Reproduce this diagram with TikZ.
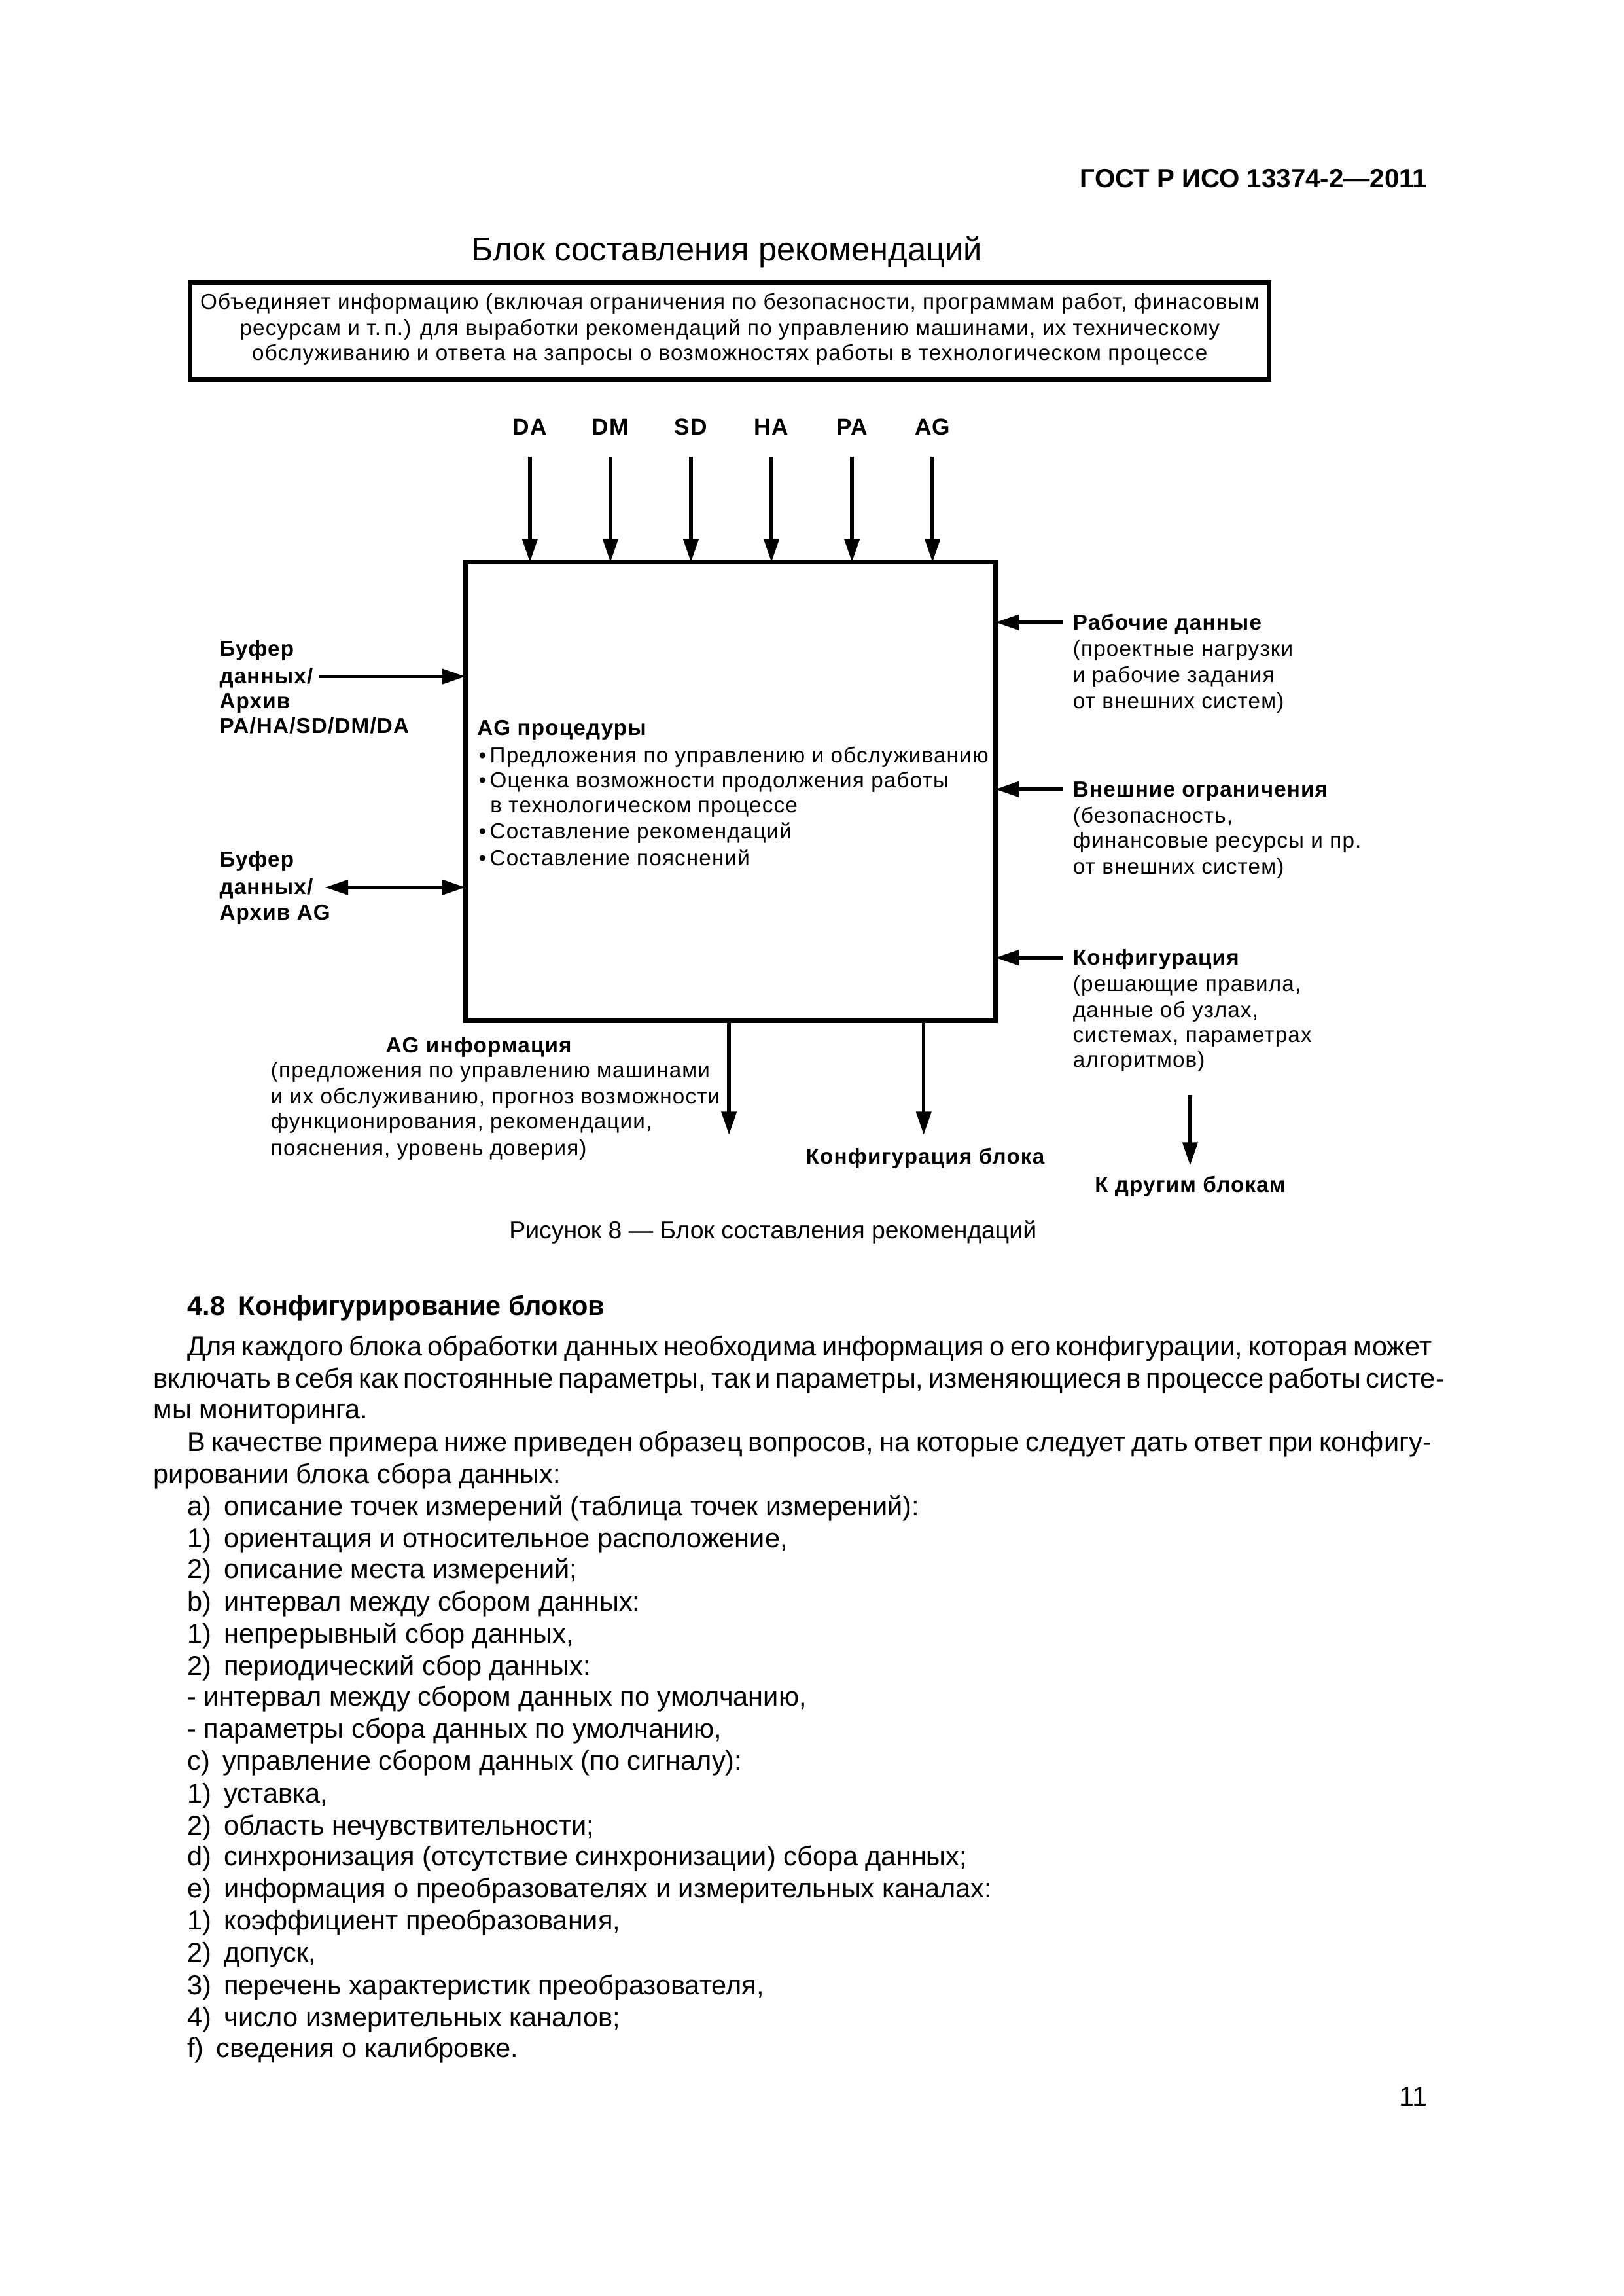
\documentclass[tikz,border=0pt]{standalone}
\usepackage{fontspec}
\setmainfont{Liberation Sans}
\newfontfamily\dg[LetterSpace=3.5]{Liberation Sans}
\usetikzlibrary{arrows.meta,fit}
\begin{document}
\begin{tikzpicture}[x=0.018936cm,y=-0.018941cm,
  every node/.style={inner sep=0pt, outer sep=0pt},
  tip/.tip={Triangle[length=3mm,width=1.9mm]},
  arr/.style={line width=1.3pt, -tip},
  darr/.style={line width=1.3pt, tip-tip},
  frame/.style={draw, line width=1.6pt, inner sep=0pt},
  dl/.style={font=\dg\fontsize{8}{9.6}\selectfont},
  dlb/.style={font=\dg\bfseries\fontsize{8}{9.6}\selectfont},
  body/.style={font=\fontsize{10}{12}\selectfont, anchor=base west},
]
\useasboundingbox (0,0) rectangle (1109,1568);
\fill[white] (0,0) rectangle (1109,1568);

% header and title
\node[font=\bfseries\fontsize{9.7}{11}\selectfont, anchor=base east] (hdr) at (975,128) {ГОСТ Р ИСО 13374-2—2011};
\node[font=\fontsize{12.2}{14}\selectfont, anchor=base] (title) at (496.5,178) {Блок составления рекомендаций};

% top description box
\node[frame, fit={(130,193) (867,259)}] (tb) {};
\node[dl, anchor=base] (tb1) at (498.5,211) {Объединяет информацию (включая ограничения по безопасности, программам работ, финасовым};
\node[dl, anchor=base] (tb2) at (498.5,229) {ресурсам и т.\,п.) для выработки рекомендаций по управлению машинами, их техническому};
\node[dl, anchor=base] (tb3) at (498.5,246) {обслуживанию и ответа на запросы о возможностях работы в технологическом процессе};

% main box
\node[frame, fit={(318,384) (680,697)}] (main) {};

% top inputs
\foreach \nm/\xx in {DA/362, DM/417, SD/472, HA/527, PA/582, AG/637}{
  \node[dlb, font=\dg\bfseries\fontsize{8.5}{10}\selectfont, anchor=base] (l\nm) at (\xx,297) {\nm};
  \coordinate (s\nm) at (\xx,312);
  \draw[arr] (s\nm) -- (s\nm |- main.north);
}

% left side
\coordinate (lin1) at (218,462);
\draw[arr] (lin1) -- (lin1 -| main.west);
\node[dlb, anchor=base west] (lb1) at (150,448) {Буфер};
\node[dlb, anchor=base west] (lb2) at (150,467) {данных/};
\node[dlb, anchor=base west] (lb3) at (150,484) {Архив};
\node[dlb, anchor=base west] (lb4) at (150,501) {PA/HA/SD/DM/DA};

\coordinate (lin2) at (222,606);
\draw[darr] (lin2) -- (lin2 -| main.west);
\node[dlb, anchor=base west] (lc1) at (150,592) {Буфер};
\node[dlb, anchor=base west] (lc2) at (150,611) {данных/};
\node[dlb, anchor=base west] (lc3) at (150,628) {Архив AG};

% inside main box
\node[dlb, anchor=base west] (ag0) at (326,502) {AG процедуры};
\node[dl, anchor=base west] (ag1) at (327,521) {\textbullet\,Предложения по управлению и обслуживанию};
\node[dl, anchor=base west] (ag2) at (327,538) {\textbullet\,Оценка возможности продолжения работы};
\node[dl, anchor=base west] (ag3) at (335,555) {в технологическом процессе};
\node[dl, anchor=base west] (ag4) at (327,573) {\textbullet\,Составление рекомендаций};
\node[dl, anchor=base west] (ag5) at (327,591) {\textbullet\,Составление пояснений};

% right side inputs
\foreach \yy [count=\i] in {425,539,654}{
  \coordinate (rin\i) at (726,\yy);
  \draw[arr] (rin\i) -- (rin\i -| main.east);
}
\node[dlb, anchor=base west] (ra1) at (733,430) {Рабочие данные};
\node[dl, anchor=base west] (ra2) at (733,448) {(проектные нагрузки};
\node[dl, anchor=base west] (ra3) at (733,466) {и рабочие задания};
\node[dl, anchor=base west] (ra4) at (733,484) {от внешних систем)};

\node[dlb, anchor=base west] (rb1) at (733,544) {Внешние ограничения};
\node[dl, anchor=base west] (rb2) at (733,562) {(безопасность,};
\node[dl, anchor=base west] (rb3) at (733,579) {финансовые ресурсы и пр.};
\node[dl, anchor=base west] (rb4) at (733,597) {от внешних систем)};

\node[dlb, anchor=base west] (rc1) at (733,659) {Конфигурация};
\node[dl, anchor=base west] (rc2) at (733,677) {(решающие правила,};
\node[dl, anchor=base west] (rc3) at (733,695) {данные об узлах,};
\node[dl, anchor=base west] (rc4) at (733,712) {системах, параметрах};
\node[dl, anchor=base west] (rc5) at (733,729) {алгоритмов)};

% outputs
\coordinate (o1) at (498,775);
\coordinate (o2) at (631,775);
\draw[arr] (o1 |- main.south) -- (o1);
\draw[arr] (o2 |- main.south) -- (o2);

\node[dlb, anchor=base] (oa0) at (327,719) {AG информация};
\node[dl, anchor=base west] (oa1) at (185,736) {(предложения по управлению машинами};
\node[dl, anchor=base west] (oa2) at (185,754) {и их обслуживанию, прогноз возможности};
\node[dl, anchor=base west] (oa3) at (185,771) {функционирования, рекомендации,};
\node[dl, anchor=base west] (oa4) at (185,789) {пояснения, уровень доверия)};

\node[dlb, anchor=base] (ob) at (632,795) {Конфигурация блока};

\coordinate (kt) at (813,748);
\coordinate (kh) at (813,796);
\draw[arr] (kt) -- (kh);
\node[dlb, anchor=base] (kb) at (813,814) {К другим блокам};

% caption
\node[font=\fontsize{9}{11}\selectfont, anchor=base] (cap) at (528,846) {Рисунок 8 — Блок составления рекомендаций};

% section text
\node[font=\bfseries\fontsize{10}{12}\selectfont, anchor=base west] (sec) at (128,898) {4.8\hspace{5pt}Конфигурирование блоков};

\node[body] (b1) at (128,926) {\makebox[16.096cm][s]{Для каждого блока обработки данных необходима информация о его конфигурации, которая может}};
\node[body] (b2) at (105,948) {\makebox[16.531cm][s]{включать в себя как постоянные параметры, так и параметры, изменяющиеся в процессе работы систе-}};
\node[body] (b3) at (105,969) {мы мониторинга.};
\node[body] (b4) at (128,991) {\makebox[16.096cm][s]{В качестве примера ниже приведен образец вопросов, на которые следует дать ответ при конфигу-}};
\node[body] (b5) at (105,1013) {рировании блока сбора данных:};
\node[body] (b6) at (128,1035) {а)\hspace{4.6pt}описание точек измерений (таблица точек измерений):};
\node[body] (b7) at (128,1057) {1)\hspace{4.6pt}ориентация и относительное расположение,};
\node[body] (b8) at (128,1078) {2)\hspace{4.6pt}описание места измерений;};
\node[body] (b9) at (128,1100) {b)\hspace{4.6pt}интервал между сбором данных:};
\node[body] (b10) at (128,1122) {1)\hspace{4.6pt}непрерывный сбор данных,};
\node[body] (b11) at (128,1144) {2)\hspace{4.6pt}периодический сбор данных:};
\node[body] (b12) at (128,1165) {- интервал между сбором данных по умолчанию,};
\node[body] (b13) at (128,1187) {- параметры сбора данных по умолчанию,};
\node[body] (b14) at (128,1209) {с)\hspace{4.6pt}управление сбором данных (по сигналу):};
\node[body] (b15) at (128,1231) {1)\hspace{4.6pt}уставка,};
\node[body] (b16) at (128,1253) {2)\hspace{4.6pt}область нечувствительности;};
\node[body] (b17) at (128,1274) {d)\hspace{4.6pt}синхронизация (отсутствие синхронизации) сбора данных;};
\node[body] (b18) at (128,1296) {e)\hspace{4.6pt}информация о преобразователях и измерительных каналах:};
\node[body] (b19) at (128,1318) {1)\hspace{4.6pt}коэффициент преобразования,};
\node[body] (b20) at (128,1340) {2)\hspace{4.6pt}допуск,};
\node[body] (b21) at (128,1362) {3)\hspace{4.6pt}перечень характеристик преобразователя,};
\node[body] (b22) at (128,1384) {4)\hspace{4.6pt}число измерительных каналов;};
\node[body] (b23) at (128,1405) {f)\hspace{4.6pt}сведения о калибровке.};

\node[font=\fontsize{10}{12}\selectfont, anchor=base east] (pg) at (975,1438) {11};
\end{tikzpicture}
\end{document}
